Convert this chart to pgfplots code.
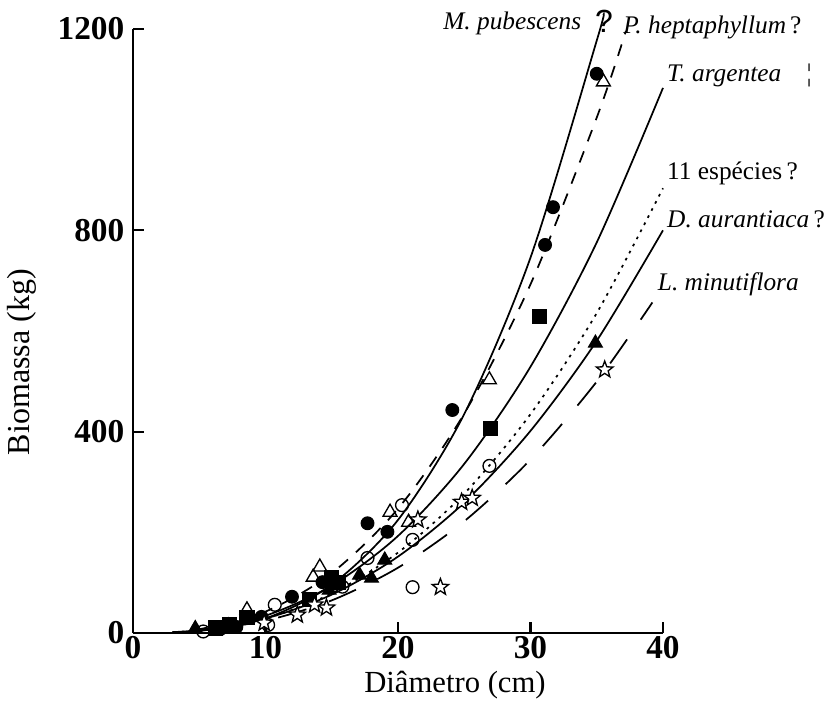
\documentclass[border=0pt]{standalone}
\usepackage{pgfplots}
\pgfplotsset{compat=1.18}
\usepackage{fontspec}
\setmainfont{Liberation Serif}
\newfontfamily\qfont{Liberation Sans}
\pgfdeclareplotmark{ostar}{%
 \pgfpathmoveto{\pgfpointpolar{90}{\pgfplotmarksize}}%
 \pgfpathlineto{\pgfpointpolar{126}{0.42\pgfplotmarksize}}%
 \pgfpathlineto{\pgfpointpolar{162}{\pgfplotmarksize}}%
 \pgfpathlineto{\pgfpointpolar{198}{0.42\pgfplotmarksize}}%
 \pgfpathlineto{\pgfpointpolar{234}{\pgfplotmarksize}}%
 \pgfpathlineto{\pgfpointpolar{270}{0.42\pgfplotmarksize}}%
 \pgfpathlineto{\pgfpointpolar{306}{\pgfplotmarksize}}%
 \pgfpathlineto{\pgfpointpolar{342}{0.42\pgfplotmarksize}}%
 \pgfpathlineto{\pgfpointpolar{18}{\pgfplotmarksize}}%
 \pgfpathlineto{\pgfpointpolar{54}{0.42\pgfplotmarksize}}%
 \pgfpathclose
 \pgfusepathqfillstroke}
\begin{document}
\begin{tikzpicture}
\path[use as bounding box] (-99.75pt,-70.5pt) rectangle (530.25pt,474.75pt);
\begin{axis}[
  at={(0,0)}, anchor=origin,
  scale only axis, width=397.5pt, height=453pt,
  xmin=0, xmax=40, ymin=0, ymax=1200,
  axis lines=left,
  axis line style={-, line width=2pt},
  tick align=inside,
  major tick length=8pt,
  tick style={line width=1.6pt, black},
  xtick={0,10,20,30,40}, ytick={0,400,800,1200},
  /pgf/number format/assume math mode=true,
  /pgf/number format/set thousands separator={},
  ticklabel style={font=\bfseries\fontsize{25}{25}\selectfont},
  xticklabel style={yshift=-2pt, inner ysep=0pt},
  yticklabel style={xshift=-3pt},
  clip=false,
  every axis plot/.append style={line width=1.3pt, black},
]
% curves read from the figure
\addplot[smooth, mark=none] coordinates {(3,0.8) (5,3.7) (10,28.9) (15,95.9) (20,224.6) (25,435) (30,745.8) (35,1177) (35.5,1228)};
\addplot[smooth, mark=none, dash pattern=on 9pt off 8pt] coordinates {(3,2.0) (5,7.3) (10,42.5) (15,119) (20,247) (25,436) (30,692.7) (35,1024) (37.2,1196)};
\addplot[smooth, mark=none] coordinates {(3,1.7) (5,6.1) (10,34.3) (15,94.2) (20,192.8) (25,336) (30,529) (35,776) (40,1083)};
\addplot[smooth, mark=none, dash pattern=on 2pt off 4pt] coordinates {(3,1.5) (5,5.2) (10,28.8) (15,78.5) (20,159.7) (25,277) (30,434.8) (35,635.6) (40,883.6)};
\addplot[smooth, mark=none] coordinates {(3,1.6) (5,5.5) (10,28.8) (15,76.2) (20,151.8) (25,259.2) (30,401.6) (35,580.6) (40,800)};
\addplot[smooth, mark=none, dash pattern=on 22pt off 18pt] coordinates {(3,1.3) (5,4.6) (10,24.4) (15,64.8) (20,129.7) (25,222) (30,344.6) (35,499.5) (39.2,656.7)};
% observed points
\addplot[only marks, mark=*, mark size=4.8pt, mark options={fill=black, line width=0.8pt}] coordinates {(35.0,1111) (31.7,846) (31.1,771) (24.1,443) (17.7,218) (19.2,201) (12.0,72) (9.7,32) (14.3,101) (7.8,12) (6.6,8)};
\addplot[only marks, mark=triangle, mark size=6pt, mark options={fill=white, line width=1pt}] coordinates {(35.5,1095) (26.9,503) (19.4,240) (20.8,220) (14.1,131) (13.6,111) (8.6,46) (7.2,14)};
\addplot[only marks, mark=square*, mark size=5.3pt, mark options={fill=black, line width=0.8pt}] coordinates {(30.7,628) (27.0,407) (15.0,111) (15.5,100) (8.6,30) (7.3,16) (6.2,10) (13.3,66)};
\addplot[only marks, mark=triangle*, mark size=6pt, mark options={fill=black, line width=0.8pt}] coordinates {(34.9,576) (19.0,145) (17.1,115) (18.0,109) (4.7,9) (14.8,85)};
\addplot[only marks, mark=o, mark size=4.8pt, mark options={fill=white, line width=1pt}] coordinates {(26.9,332) (20.3,254) (21.1,185) (17.7,149) (21.1,91) (10.7,56) (10.2,16) (5.3,3) (15.8,92)};
\addplot[only marks, mark=ostar, mark size=6.5pt, mark options={fill=white, line width=1pt}] coordinates {(35.6,523) (24.8,260) (25.6,268) (23.2,91) (21.5,225) (12.4,36) (14.6,50) (13.7,56) (9.9,20)};
% curve labels
\node[anchor=base west, font=\fontsize{19}{19}\selectfont\itshape, inner sep=0pt] at (axis cs:23.4,1198) {M. pubescens};
\node[anchor=base west, font=\qfont\fontsize{24}{24}\selectfont, inner sep=0pt] at (axis cs:34.85,1194) {?};
\node[anchor=base west, font=\fontsize{19}{19}\selectfont, inner sep=0pt] at (axis cs:36.98,1192) {\textit{P. heptaphyllum}\,?};
\node[anchor=base west, font=\fontsize{19}{19}\selectfont, inner sep=0pt] at (axis cs:40.3,1095) {\textit{T. argentea}\quad ¦};
\node[anchor=base west, font=\fontsize{19}{19}\selectfont, inner sep=0pt] at (axis cs:40.3,900) {11 espécies\,?};
\node[anchor=base west, font=\fontsize{19}{19}\selectfont, inner sep=0pt] at (axis cs:40.3,805) {\textit{D. aurantiaca}\,?};
\node[anchor=base west, font=\fontsize{19}{19}\selectfont, inner sep=0pt] at (axis cs:39.6,681) {\textit{L. minutiflora}};
% axis titles
\node[rotate=90, anchor=center, font=\fontsize{24}{24}\selectfont, inner sep=0pt] at (axis cs:-8.4,538) {Biomassa (kg)};
\node[anchor=base, font=\fontsize{23}{23}\selectfont, inner sep=0pt] at (axis cs:24.3,-119) {Diâmetro (cm)};
\end{axis}
\end{tikzpicture}
\end{document}
